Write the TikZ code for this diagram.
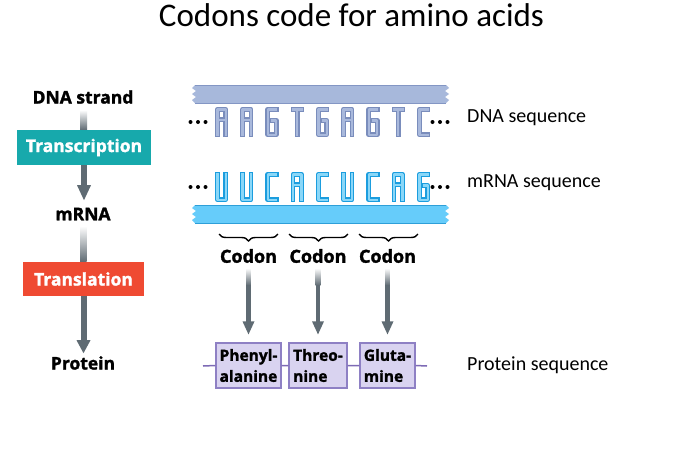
\documentclass[tikz,border=0pt]{standalone}
\usepackage{fontspec}
\setmainfont{Carlito}
\newfontfamily\osans{Open Sans}[BoldFeatures={FakeBold=1.6}]
\usetikzlibrary{decorations.pathreplacing,calc}
\definecolor{agray}{HTML}{5F6B73}
\definecolor{teal1}{HTML}{17A9AC}
\definecolor{red1}{HTML}{EF4A32}
\definecolor{dnaband}{HTML}{A7B8DB}
\definecolor{dnabedge}{HTML}{8396C4}
\definecolor{dnafill}{HTML}{A9B9DC}
\definecolor{dnaedge}{HTML}{7A8DBC}
\definecolor{rnaband}{HTML}{66CCFA}
\definecolor{rnabedge}{HTML}{2E9FD8}
\definecolor{rnafill}{HTML}{8AD7F8}
\definecolor{rnaedge}{HTML}{1B9DDE}
\definecolor{pfill}{HTML}{D9D3F0}
\definecolor{pedge}{HTML}{8E80C4}
\definecolor{pline}{HTML}{7D6AB5}
\tikzset{
  lbl/.style={font=\osans\bfseries\fontsize{17.5}{20}\selectfont, inner sep=0pt},
  codonlbl/.style={lbl, font=\osans\bfseries\fontsize{18}{20}\selectfont},
  stepbox/.style={lbl, text=white, minimum height=35pt},
  protbox/.style={font=\osans\bfseries\fontsize{15.5}{21}\selectfont, fill=pfill, draw=pedge, line width=1.2pt, minimum height=45pt, inner sep=2pt, align=left},
  seqlbl/.style={font=\fontsize{20}{22}\selectfont, anchor=west, inner sep=0pt},
  cbrace/.style={decorate, decoration={brace, mirror, amplitude=7pt}, line width=1.4pt},
}
% letter shapes (centerline box 8.4 x 25.4)
\newcommand\shA[1]{\draw[#1] (0,25.4)--(0,0)--(8.4,0)--(8.4,25.4) (0,10.5)--(8.4,10.5);}
\newcommand\shG[1]{\draw[#1] (8.4,0)--(0,0)--(0,25.4)--(8.4,25.4)--(8.4,11)--(4.8,11);}
\newcommand\shT[1]{\draw[#1] (0,0)--(8.4,0) (4.2,0)--(4.2,25.4);}
\newcommand\shC[1]{\draw[#1] (8.4,0)--(0,0)--(0,25.4)--(8.4,25.4);}
\newcommand\shU[1]{\draw[#1] (0,0)--(0,25.4)--(8.4,25.4)--(8.4,0);}
\newcommand\sqltr[4]{\begin{scope}[shift={(#2,#3)}]#1{line width=4.8pt,line cap=rect,line join=round,draw=#4edge}#1{line width=2.4pt,line cap=rect,line join=round,draw=#4fill}\end{scope}}
\newcommand\strandband[2]{%
  \begin{scope}[shift={(0,#1)}]
  \fill[#2band] (195,0) -- (446,0) -- (449,3) -- (445,6) -- (449,9) -- (445,12) -- (449,15) -- (446,18) -- (195,18) -- (192,15) -- (196,12) -- (192,9) -- (196,6) -- (192,3) -- cycle;
  \draw[#2bedge, line width=1pt] (195,0) -- (446,0) (195,18) -- (446,18);
  \end{scope}}
\newcommand\seqdots[1]{\foreach \dx in {190.5,198,205.5,432.5,440,447.5}{\fill (\dx,#1) circle (2);}}
\begin{document}
\begin{tikzpicture}[x=1pt,y=-1pt]
\useasboundingbox (0,0) rectangle (686,461);
\fill[white] (0,0) rectangle (686,461);
% title
\node[anchor=base, inner sep=0pt, font=\fontsize{33}{35}\selectfont] (title) at (351.5,26) {Codons code for amino acids};
% left flow
\node[lbl] (dnas) at (83,97) {DNA strand};
\node[stepbox, fill=teal1, minimum width=134pt] (tc) at (84,147.5) {Transcription};
\node[lbl] (mrna) at (83,214) {mRNA};
\node[stepbox, fill=red1, minimum width=121pt, minimum height=34pt] (tl) at (83.5,279) {Translation};
\node[lbl] (prot) at (83,363) {Protein};
\shade[top color=white, bottom color=agray] ($(dnas.south |- 0,110)+(-3,0)$) rectangle ($(tc.north)+(3,0)$);
\fill[agray] ($(tc.south)+(-3,0)$) rectangle ($(tc.south)+(3,21)$);
\fill[agray] ($(tc.south)+(-7,20)$) -- ($(tc.south)+(7,20)$) -- ($(tc.south)+(0,35)$) -- cycle;
\shade[top color=white, bottom color=agray] ($(mrna.south |- 0,226)+(-3,0)$) rectangle ($(tl.north)+(3,0)$);
\fill[agray] ($(tl.south)+(-3,0)$) rectangle ($(tl.south)+(3,45)$);
\fill[agray] ($(tl.south)+(-7,44)$) -- ($(tl.south)+(7,44)$) -- ($(tl.south)+(0,57)$) -- cycle;
% DNA strand
\strandband{85}{dna}
\foreach \l [count=\i from 0] in {\shA,\shA,\shG,\shT,\shG,\shA,\shG,\shT,\shC}{
  \sqltr{\l}{217.3+25.25*\i}{109.3}{dna}
}
\seqdots{122}
% mRNA strand
\strandband{205}{rna}
\foreach \l [count=\i from 0] in {\shU,\shU,\shC,\shA,\shC,\shU,\shC,\shA,\shG}{
  \sqltr{\l}{217.3+25.25*\i}{174.3}{rna}
}
\seqdots{187}
% right labels
\node[seqlbl] (dnaseq) at (467,118) {DNA sequence};
\node[seqlbl] (rnaseq) at (467,183) {mRNA sequence};
\node[seqlbl] (protseq) at (467,365) {Protein sequence};
% codons
\draw[cbrace] (219,234) -- (278,234);
\draw[cbrace] (289,234) -- (348,234);
\draw[cbrace] (359,234) -- (418,234);
\node[codonlbl] (c1) at (248.5,256) {Codon};
\node[codonlbl] (c2) at (318,256) {Codon};
\node[codonlbl] (c3) at (387.5,256) {Codon};
% protein
\coordinate (pl) at (203,366);
\coordinate (pr) at (427,366);
\node[protbox, minimum width=65pt] (p1) at (248.5,365.5) {Phenyl-\\alanine};
\node[protbox, minimum width=58pt] (p2) at (318,365.5) {Threo-\\nine};
\node[protbox, minimum width=55pt] (p3) at (387.5,365.5) {Gluta-\\mine};
\draw[pline, line width=1.5pt] (pl) -- (p1.west) (p1.east) -- (p2.west) (p2.east) -- (p3.west) (p3.east) -- (pr);
\foreach \i in {1,2,3}{
  \shade[top color=white, bottom color=agray] ($(c\i.south)+(-2.3,5)$) rectangle ($(c\i.south)+(2.3,22)$);
  \fill[agray] ($(c\i.south)+(-2.3,21.5)$) rectangle ($(p\i.north)+(2.3,-20)$);
  \fill[agray] ($(p\i.north)+(-6,-21)$) -- ($(p\i.north)+(6,-21)$) -- ($(p\i.north)+(0,-8)$) -- cycle;
}
\end{tikzpicture}
\end{document}
